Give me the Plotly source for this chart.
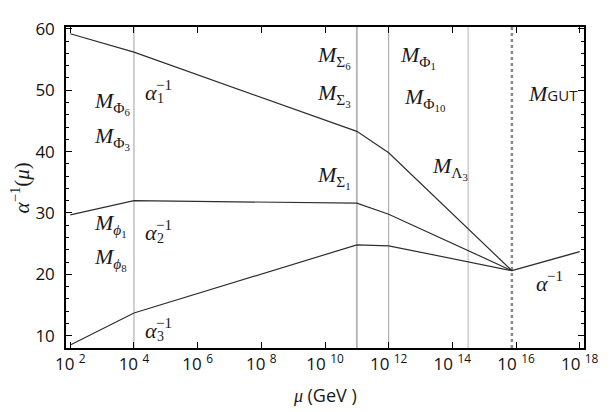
import plotly.graph_objects as go

# log10(mu / GeV) at the thresholds where the running changes slope
SCALE_EXP = [2, 4, 11, 12, 15.87]
ALPHA1_INV = [59.2, 56.2, 43.3, 39.8, 20.6]
ALPHA2_INV = [29.7, 32.0, 31.6, 29.8, 20.6]
ALPHA3_INV = [8.5, 13.7, 24.8, 24.65, 20.6]

# unified coupling above the GUT scale
GUT_EXP = [15.87, 18.0]
ALPHA_GUT_INV = [20.6, 23.7]

# intermediate thresholds (log10 mu) and the GUT scale
THRESHOLD_EXP = [4, 11, 12, 14.5]
GUT_SCALE_EXP = 15.87

TICK_EXP = [2, 4, 6, 8, 10, 12, 14, 16, 18]
Y_TICKS = [10, 20, 30, 40, 50, 60]

SERIF = 'Liberation Serif'
SANS = 'Open Sans'
CURVE = '#2e2e2e'
INK = '#1a1a1a'

Y_LO, Y_HI = 8.0, 60.3

fig = go.Figure()

# threshold lines
thr_styles = [
    {'color': '#a0a0a0', 'width': 1},
    {'color': '#b4b4b4', 'width': 1.8},
    {'color': '#a0a0a0', 'width': 1},
    {'color': '#d2d2d2', 'width': 1.8},
]
for e, st in zip(THRESHOLD_EXP, thr_styles):
    fig.add_trace(go.Scatter(
        x=[10 ** e, 10 ** e], y=[Y_LO, Y_HI], mode='lines',
        line=st, hoverinfo='skip', showlegend=False,
    ))
fig.add_trace(go.Scatter(
    x=[10 ** GUT_SCALE_EXP] * 2, y=[Y_LO, Y_HI], mode='lines',
    line={'color': '#8a8a8a', 'width': 2.5, 'dash': 'dot'},
    hoverinfo='skip', showlegend=False,
))

mu = [10 ** e for e in SCALE_EXP]
for series in (ALPHA1_INV, ALPHA2_INV, ALPHA3_INV):
    fig.add_trace(go.Scatter(
        x=mu, y=series, mode='lines',
        line={'color': CURVE, 'width': 1.2}, showlegend=False,
    ))
fig.add_trace(go.Scatter(
    x=[10 ** e for e in GUT_EXP], y=ALPHA_GUT_INV, mode='lines',
    line={'color': CURVE, 'width': 1.4}, showlegend=False,
))

# mass threshold labels: (log10 x of left edge, y, text)
mass_labels = [
    (2.68, 47.9, '<i>M</i><sub>Φ<sub>6</sub></sub>'),
    (2.68, 42.2, '<i>M</i><sub>Φ<sub>3</sub></sub>'),
    (2.68, 28.1, '<i>M</i><sub><i>ϕ</i><sub>1</sub></sub>'),
    (2.68, 22.5, '<i>M</i><sub><i>ϕ</i><sub>8</sub></sub>'),
    (9.68, 55.4, '<i>M</i><sub>Σ<sub>6</sub></sub>'),
    (9.68, 49.3, '<i>M</i><sub>Σ<sub>3</sub></sub>'),
    (9.68, 35.8, '<i>M</i><sub>Σ<sub>1</sub></sub>'),
    (12.3, 55.4, '<i>M</i><sub>Φ<sub>1</sub></sub>'),
    (12.42, 48.6, '<i>M</i><sub>Φ<sub>10</sub></sub>'),
    (13.3, 37.4, '<i>M</i><sub>Λ<sub>3</sub></sub>'),
    (16.3, 49.4, '<i>M</i><span style="font-family:Open Sans;font-size:15px">GUT</span>'),
]
# coupling labels: (log10 x of alpha's left edge, y, subscript)
alpha_labels = [
    (4.29, 49.6, '1'),
    (4.29, 26.8, '2'),
    (4.29, 10.8, '3'),
    (16.55, 18.45, ''),
]

annotations = [
    dict(x=lx, y=ly, xref='x', yref='y', text=t, showarrow=False, xanchor='left',
         font={'family': SERIF, 'size': 22, 'color': INK})
    for lx, ly, t in mass_labels
]
for lx, ly, sub in alpha_labels:
    annotations.append(dict(
        x=lx, y=ly, xref='x', yref='y', text='<i>α</i>', showarrow=False,
        xanchor='left', font={'family': SERIF, 'size': 22, 'color': INK},
    ))
    if sub:
        annotations.append(dict(
            x=lx, y=ly, xref='x', yref='y', text=sub, showarrow=False,
            xanchor='left', xshift=12, yshift=-6,
            font={'family': SERIF, 'size': 14, 'color': INK},
        ))
    annotations.append(dict(
        x=lx, y=ly, xref='x', yref='y', text='−1', showarrow=False,
        xanchor='left', xshift=11, yshift=8,
        font={'family': SERIF, 'size': 15, 'color': INK},
    ))

annotations.append(dict(
    x=0.5, y=-0.146, xref='paper', yref='paper', yanchor='middle',
    text='<i>μ</i> <span style="font-family:Open Sans">(GeV )</span>',
    showarrow=False, font={'family': SERIF, 'size': 18, 'color': INK},
))
annotations.append(dict(
    x=-0.117, y=0.5, xref='paper', yref='paper', textangle=-90,
    text='<i>α</i><sup>−1</sup>(<i>μ</i>)', showarrow=False,
    font={'family': SERIF, 'size': 21, 'color': INK},
))

fig.update_layout(
    width=616, height=412,
    margin={'l': 66, 'r': 32, 't': 27, 'b': 64, 'autoexpand': False},
    plot_bgcolor='white', paper_bgcolor='white',
    annotations=annotations,
    showlegend=False,
    xaxis={
        'type': 'log', 'range': [1.865, 18.135], 'automargin': False,
        'tickvals': [10 ** e for e in TICK_EXP],
        'ticktext': [f'10 <sup>{e}</sup>' for e in TICK_EXP],
        'ticks': 'inside', 'ticklen': 6, 'tickcolor': 'black',
        'showline': True, 'linecolor': 'black', 'linewidth': 1.5,
        'mirror': 'allticks', 'showgrid': False, 'zeroline': False,
        'tickfont': {'family': SANS, 'size': 17, 'color': '#111'},
    },
    yaxis={
        'range': [Y_LO, Y_HI], 'automargin': False,
        'tickvals': Y_TICKS,
        'ticks': 'inside', 'ticklen': 6, 'tickcolor': 'black',
        'minor': {'dtick': 2, 'ticks': 'inside', 'ticklen': 3, 'tickcolor': 'black', 'showgrid': False},
        'showline': True, 'linecolor': 'black', 'linewidth': 1.5,
        'mirror': 'allticks', 'showgrid': False, 'zeroline': False,
        'ticklabelstandoff': 6,
        'tickfont': {'family': SANS, 'size': 17, 'color': '#111'},
    },
)

# the page body has a default 8px margin; drop it so the figure fills the window
fig.write_html('out.html', config={'displayModeBar': False},
               post_script="document.body.style.margin='0';")
